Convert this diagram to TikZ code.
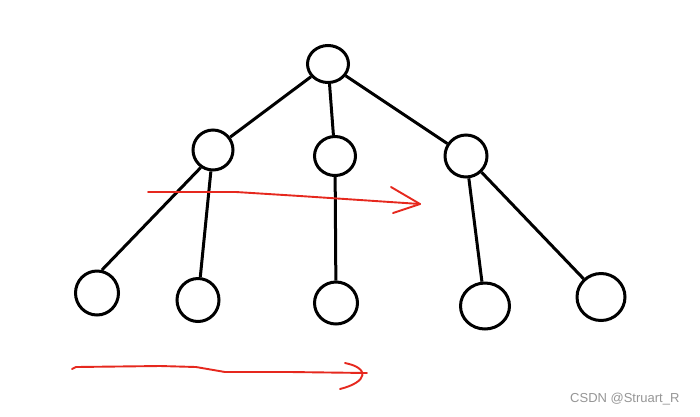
\documentclass[tikz,border=0pt]{standalone}
\usepackage{fontspec}
\newfontfamily\wmfont{Liberation Sans}
\begin{document}
\begin{tikzpicture}[x=1pt,y=-1pt,
  tnode/.style={draw=black,line width=3pt,ellipse,inner sep=0pt},
  edge/.style={draw=black,line width=3pt},
  redline/.style={draw={rgb,255:red,230;green,40;blue,30},line width=1.9pt,line cap=round,line join=round}]
\usetikzlibrary{shapes.geometric}
\useasboundingbox (0,0) rectangle (700,416);
\fill[white] (0,0) rectangle (700,416);
% nodes
\node[tnode,minimum width=41pt,minimum height=37pt] (r) at (328,64) {};
\node[tnode,minimum width=40pt,minimum height=40pt] (a) at (213,150) {};
\node[tnode,minimum width=41pt,minimum height=39pt] (b) at (335,156) {};
\node[tnode,minimum width=42pt,minimum height=42pt] (c) at (466,156) {};
\node[tnode,minimum width=43pt,minimum height=44pt] (a1) at (97,293) {};
\node[tnode,minimum width=42pt,minimum height=43pt] (a2) at (198,300) {};
\node[tnode,minimum width=43pt,minimum height=42pt] (b1) at (336,303) {};
\node[tnode,minimum width=49pt,minimum height=46pt] (c1) at (485,306) {};
\node[tnode,minimum width=48pt,minimum height=47pt] (c2) at (601,297) {};
% edges
\draw[edge] (r) -- (a);
\draw[edge] (r) -- (b);
\draw[edge] (r) -- (c);
\draw[edge] (a.235) -- (a1.78);
\draw[edge] (a) -- (a2);
\draw[edge] (b) -- (b1);
\draw[edge] (c) -- (c1);
\draw[edge] (c) -- (c2);
% red arrows
\coordinate (s1) at (148,192);
\coordinate (t1) at (420,204);
\draw[redline] (s1) -- (236,192) -- (300,196) -- (t1);
\draw[redline] (391,187) -- (t1) -- (393,213);
\coordinate (s2) at (72,369);
\coordinate (t2) at (367,373);
\draw[redline] (s2) -- (76,367) -- (160,366) -- (196,367) -- (225,372) -- (290,372) -- (t2);
\draw[redline] (345,363) .. controls (370,368) and (368,382) .. (340,389);
% watermark
\node[font=\wmfont\fontsize{13}{15}\selectfont,text={rgb,255:red,150;green,150;blue,150},anchor=east] (wm) at (683,399) {CSDN @Struart\_R};
\end{tikzpicture}
\end{document}
